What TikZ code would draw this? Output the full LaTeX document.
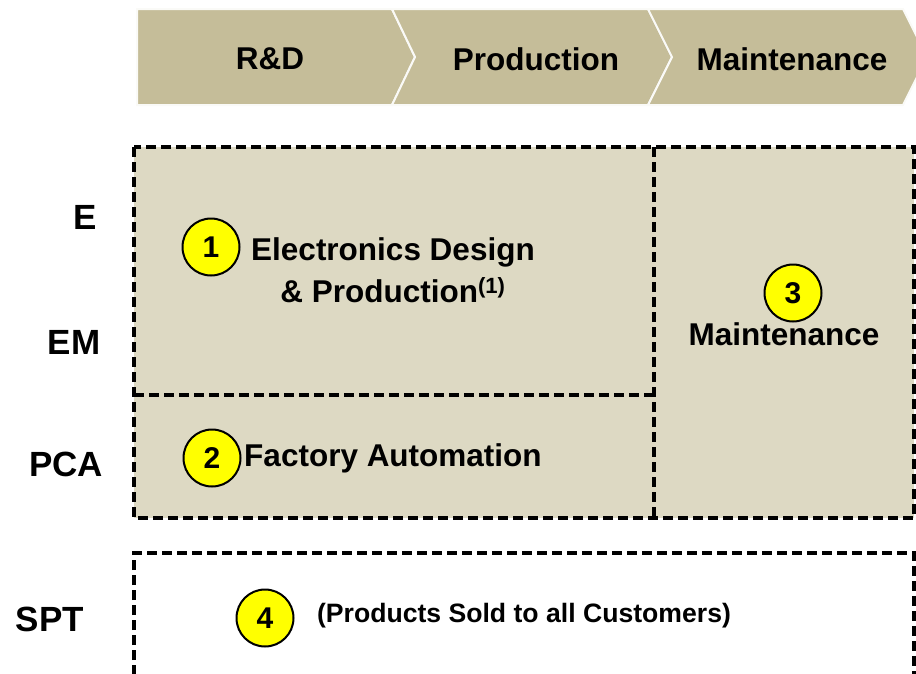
\documentclass[tikz,border=0pt]{standalone}
\usepackage{fontspec}
\setmainfont{Liberation Sans}
\definecolor{chev}{HTML}{C5BD99}
\definecolor{boxfill}{HTML}{DDD9C3}
\definecolor{numfill}{HTML}{FFFF00}
\tikzset{
  chevshape/.style={fill=chev, draw=white!92!chev, line width=2pt},
  chevtext/.style={font=\fontsize{31.5}{36}\selectfont\bfseries, anchor=center, inner sep=0pt},
  dashbox/.style={draw=black, line width=3.2pt, dash pattern=on 10pt off 5pt},
  boxtext/.style={font=\fontsize{31.5}{40}\selectfont\bfseries, align=center, inner sep=0pt},
  rowlabel/.style={font=\fontsize{35}{40}\selectfont\bfseries, inner sep=0pt},
  numcirc/.style={circle, fill=numfill, draw=black, line width=2pt, minimum size=57pt, inner sep=0pt, font=\fontsize{30}{32}\selectfont\bfseries},
  smalltext/.style={font=\fontsize{26.6}{30}\selectfont\bfseries, inner sep=0pt}
}
\begin{document}
\begin{tikzpicture}[x=1pt,y=-1pt]
\useasboundingbox (0,0) rectangle (916,673);
% chevrons
\begin{scope}
\clip (0,0) rectangle (916,673);
\draw[chevshape] (137,9) -- (392,9) -- (415,57) -- (392,105) -- (137,105) -- cycle;
\draw[chevshape] (392,9) -- (648,9) -- (672,57) -- (648,105) -- (392,105) -- (415,57) -- cycle;
\draw[chevshape] (648,9) -- (903,9) -- (927,57) -- (903,105) -- (648,105) -- (672,57) -- cycle;
\end{scope}
\node[chevtext] (rd) at (270,59) {R\&D};
\node[chevtext] (prod) at (536,59) {Production};
\node[chevtext] (mnt) at (792,59) {Maintenance};
% boxes
\fill[boxfill] (134,147) rectangle (914,518);
\draw[dashbox] (134,147) rectangle (914,518);
\draw[dashbox] (654,147) -- (654,518);
\draw[dashbox] (134,395) -- (654,395);
\draw[dashbox] (134,690) -- (134,553) -- (914,553) -- (914,690);
% row labels
\node[rowlabel] (lE) at (85,217) {E};
\node[rowlabel] (lEM) at (74,342) {EM};
\node[rowlabel] (lPCA) at (66,464) {PCA};
\node[rowlabel] (lSPT) at (50,619) {SPT};
% box contents
\node[numcirc] (n1) at (211,247) {1};
\node[boxtext] (t1) at (393,270) {Electronics Design\\[2pt]\& Production\textsuperscript{(1)}};
\node[numcirc] (n2) at (212,458) {2};
\node[boxtext] (t2) at (393,458) {Factory Automation};
\node[numcirc] (n3) at (793,293) {3};
\node[boxtext] (t3) at (784,334) {Maintenance};
\node[numcirc] (n4) at (265,618) {4};
\node[smalltext] (t4) at (524,616) {(Products Sold to all Customers)};
\end{tikzpicture}
\end{document}
